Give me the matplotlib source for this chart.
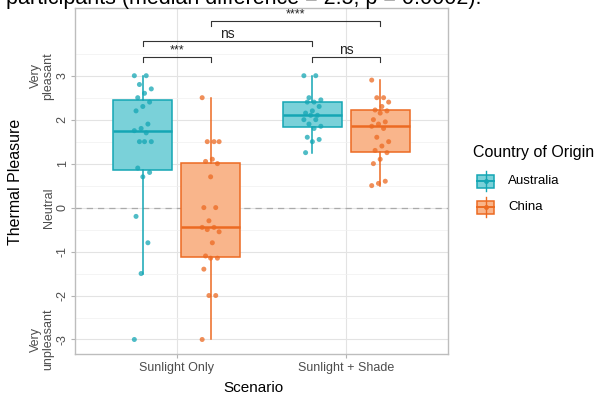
import numpy as np
import matplotlib.pyplot as plt
from matplotlib.patches import Rectangle
from matplotlib.transforms import blended_transform_factory

plt.rcParams['font.family'] = ['Liberation Sans', 'DejaVu Sans']

# thermal pleasure votes per participant
scenarios = ['Sunlight Only', 'Sunlight + Shade']
countries = ['Australia', 'China']

aus_sun = [3.0, 3.0, 2.8, 2.7, 2.6, 2.5, 2.4, 2.3, 2.2, 1.9, 1.8, 1.75,
           1.7, 1.5, 1.5, 1.5, 0.9, 0.8, 0.7, -0.2, -0.8, -1.5, -3.0]
chn_sun = [2.5, 1.5, 1.5, 1.5, 1.1, 1.05, 1.0, 0.7, 0.0, 0.0, -0.3, -0.45,
           -0.45, -0.5, -0.55, -0.8, -1.1, -1.15, -1.15, -1.4, -2.0, -2.0, -3.0]
aus_shade = [3.0, 3.0, 2.5, 2.45, 2.4, 2.4, 2.3, 2.2, 2.15, 2.1, 2.1, 2.0,
             2.0, 1.9, 1.85, 1.8, 1.6, 1.55, 1.5, 1.25]
chn_shade = [2.9, 2.5, 2.5, 2.4, 2.3, 2.22, 2.2, 2.15, 2.0, 1.95, 1.9, 1.85,
             1.8, 1.6, 1.5, 1.4, 1.3, 1.25, 1.1, 1.0, 0.6, 0.55, 0.5]

y_ticks = [-3, -2, -1, 0, 1, 2, 3]
anchor_labels = ['Very\npleasant', 'Neutral', 'Very\nunpleasant']
anchor_values = [3, 0, -3]

# pairwise comparisons: (group a, group b, height, label)
comparisons = [(0.8, 1.2, 3.42, '***'),
               (0.8, 1.8, 3.78, 'ns'),
               (1.2, 2.2, 4.24, '****'),
               (1.8, 2.2, 3.42, 'ns')]

colors = {'Australia': ('#14A6B4', '#7AD1D9'),
          'China': ('#EC6A22', '#F9B58B')}

fig = plt.figure(figsize=(5.98, 3.97), dpi=100)
ax = fig.add_axes([75 / 598, 1 - 354 / 397, 373 / 598, 346 / 397])

groups = [(aus_sun, 0.8, 'Australia'), (chn_sun, 1.2, 'China'),
          (aus_shade, 1.8, 'Australia'), (chn_shade, 2.2, 'China')]

for vals, pos, country in groups:
    edge, fill = colors[country]
    ax.boxplot(vals, positions=[pos], widths=0.35, patch_artist=True,
               showcaps=False, showfliers=False, whis=1.5, manage_ticks=False,
               boxprops=dict(facecolor=fill, edgecolor=edge, linewidth=1.1),
               medianprops=dict(color=edge, linewidth=1.8),
               whiskerprops=dict(color=edge, linewidth=1.1),
               zorder=3)
    n = len(vals)
    jitter = ((np.arange(n) * 7) % 11 - 5) / 5 * 0.05
    ax.scatter(pos + jitter, vals, s=13, color=edge, alpha=0.75,
               edgecolors='none', zorder=4)

ax.axhline(0, color='#AAAAAA', lw=0.9, ls=(0, (5, 4)), zorder=2)

# significance brackets
for x1, x2, y, label in comparisons:
    ax.plot([x1, x1, x2, x2], [y - 0.11, y, y, y - 0.11], color='#333333',
            lw=0.8, clip_on=False, zorder=5)
    if label == 'ns':
        ax.text((x1 + x2) / 2, y + 0.17, label, ha='center', va='center',
                fontsize=10, color='#222222')
    else:
        ax.text((x1 + x2) / 2, y + 0.02, label, ha='center', va='bottom',
                fontsize=9, color='#222222')

ax.set_xlim(0.4, 2.6)
ax.set_ylim(-3.33, 4.54)
ax.set_xticks([1, 2])
ax.set_xticklabels(scenarios, fontsize=9, color='#4D4D4D')
ax.set_yticks(y_ticks)
ax.set_yticklabels([str(t) for t in y_ticks], rotation=90, va='center',
                   fontsize=9, color='#4D4D4D')
ax.set_yticks(np.arange(-2.5, 4.0, 1.0), minor=True)
ax.tick_params(axis='both', which='major', length=3, color='#B3B3B3', pad=3)
ax.tick_params(axis='y', which='major', pad=1.5)
ax.tick_params(axis='y', which='minor', length=0)

ax.grid(True, which='major', color='#E3E3E3', lw=0.8, zorder=0)
ax.grid(True, which='minor', axis='y', color='#F0F0F0', lw=0.5, zorder=0)
ax.set_axisbelow(True)
for sp in ax.spines.values():
    sp.set_color('#BDBDBD')
    sp.set_linewidth(1.0)

# descriptive anchors next to the numeric ticks
trans = blended_transform_factory(fig.transFigure, ax.transData)
for label, val in zip(anchor_labels, anchor_values):
    xpos = 49 / 598 if '\n' not in label else 42 / 598
    ax.text(xpos, val, label, transform=trans, rotation=90, ha='center',
            va='center', multialignment='center', fontsize=9,
            color='#4D4D4D', linespacing=1.1)

fig.text(16 / 598, 1 - 182 / 397, 'Thermal Pleasure', rotation=90,
         ha='center', va='center', fontsize=11.5)
fig.text(253 / 598, 1 - 388 / 397, 'Scenario', ha='center', va='center',
         fontsize=11)

# caption text running off the top edge
fig.text(6 / 598, 1 - 4 / 397,
         'participants (median difference = 2.5, p = 0.0002).',
         ha='left', va='baseline', fontsize=15.5)

# legend drawn in pixel space
lax = fig.add_axes([0, 0, 1, 1], facecolor='none')
lax.set_xlim(0, 598)
lax.set_ylim(397, 0)
lax.axis('off')
lax.text(473, 153, 'Country of Origin', ha='left', va='center', fontsize=11.5)
for country, yc in zip(countries, [181, 207]):
    edge, fill = colors[country]
    lax.plot([485.5, 485.5], [yc - 10, yc + 10], color=edge, lw=1)
    lax.add_patch(Rectangle((477, yc - 6.5), 17, 13, facecolor=fill,
                            edgecolor=edge, lw=1.1))
    lax.plot([477, 494], [yc, yc], color=edge, lw=1.4)
    lax.plot(485.5, yc, 'o', color=edge, markersize=2.5)
    lax.text(508, yc, country, ha='left', va='center', fontsize=9.5)

fig.savefig('out.png', dpi=100)
